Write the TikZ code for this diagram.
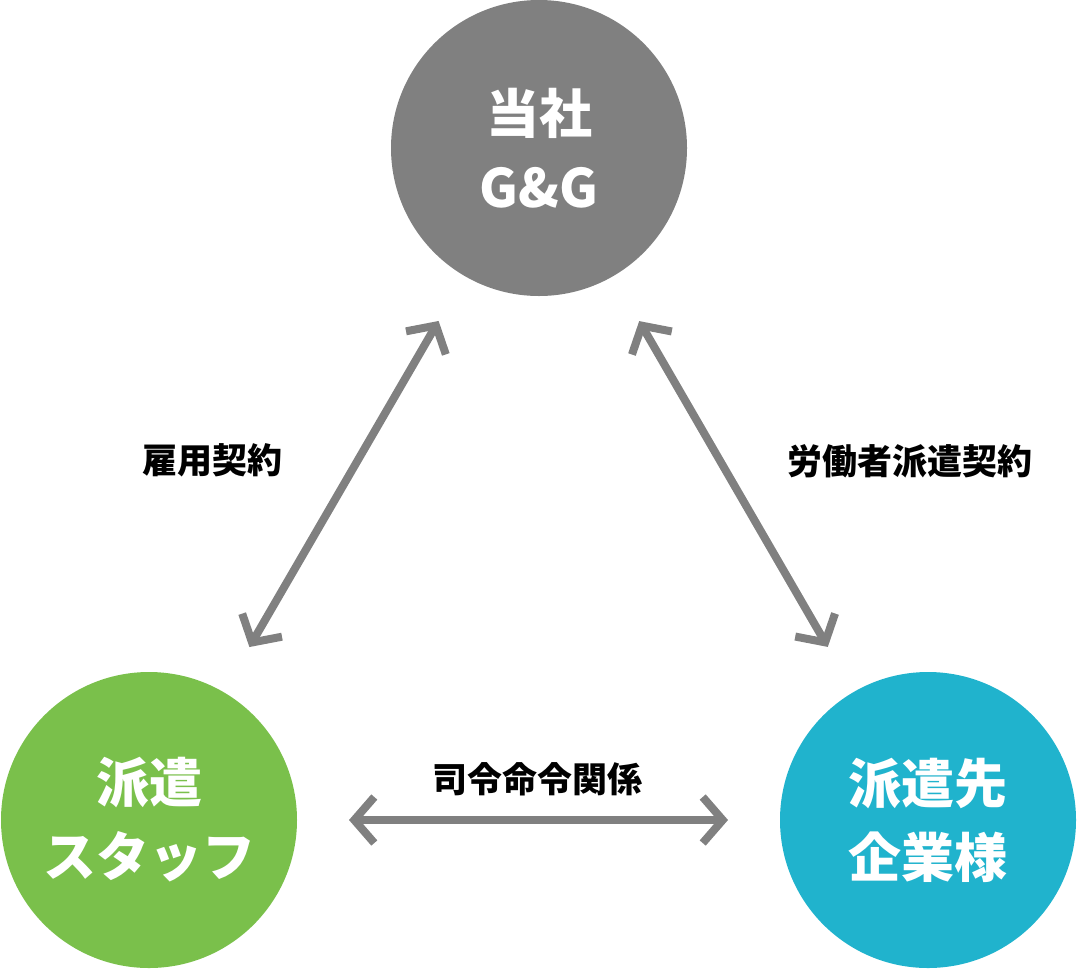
\documentclass[tikz,border=0pt]{standalone}
\usepackage{fontspec}
\setmainfont{Noto Sans CJK JP}
\usetikzlibrary{arrows.meta}
\definecolor{ggray}{HTML}{808080}
\definecolor{staffgreen}{HTML}{7AC04B}
\definecolor{clientblue}{HTML}{20B3CD}
\tikzstyle{party}=[circle,minimum size=296pt,inner sep=0pt,outer sep=0pt,text=white,align=center,font=\fontsize{53}{74}\selectfont\bfseries]
\tikzstyle{relation}=[font=\fontsize{35}{40}\selectfont\bfseries,text=black]
\tikzstyle{link}=[draw=ggray,line width=8pt,{Straight Barb[length=20pt,width=46pt,sharp]}-{Straight Barb[length=20pt,width=46pt,sharp]},shorten <=52pt,shorten >=52pt]

\begin{document}
\begin{tikzpicture}[x=1pt,y=-1pt]
  \useasboundingbox (0,0) rectangle (1078,970);
  \node [party,fill=ggray] (gg) at (539,148) {当社\\G\&G};
  \node [party,fill=staffgreen] (staff) at (149,820) {派遣\\スタッフ};
  \node [party,fill=clientblue] (client) at (928,820) {派遣先\\企業様};
  % contracts
  \draw [link] (staff) -- (gg);
  \draw [link] (gg) -- (client);
  \draw [link] (staff) -- (client);
  \node [relation] (employ) at (212,460) {雇用契約};
  \node [relation] (dispatch) at (910,461) {労働者派遣契約};
  \node [relation] (command) at (537,779) {司令命令関係};
\end{tikzpicture}
\end{document}
